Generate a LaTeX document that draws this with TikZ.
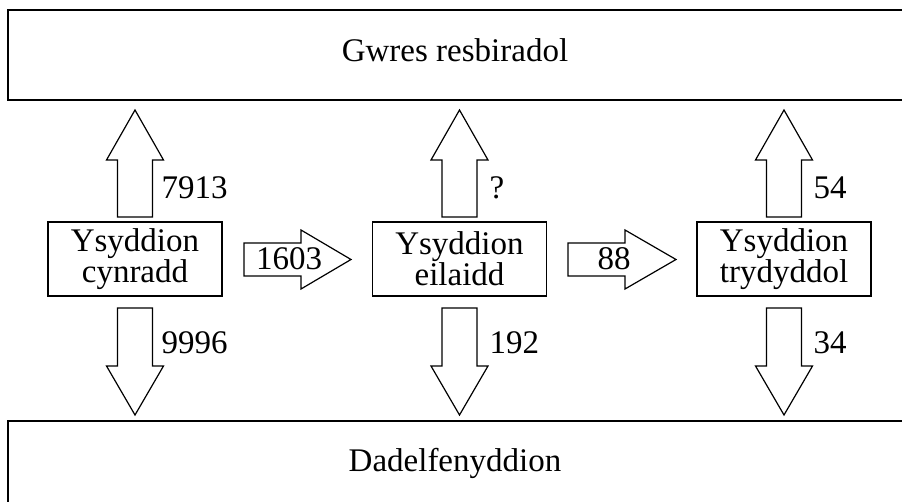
\documentclass[tikz,border=0pt]{standalone}
\usepackage{fontspec}
\setmainfont{Liberation Serif}
\begin{document}
\begin{tikzpicture}[x=1pt,y=-1pt,line width=1.2pt,
  every node/.style={font=\fontsize{33}{29}\selectfont,inner sep=0pt},
  cellbox/.style={draw,minimum width=174pt,minimum height=74pt,align=center},
  lbl/.style={anchor=west},
  blockarrow/.style={draw,line join=miter,fill=white}]
\useasboundingbox (0,0) rectangle (902,502);
% big boxes (right side runs off the page)
\draw (915,10) -- (8,10) -- (8,100) -- (915,100);
\draw (915,421) -- (8,421) -- (8,515);
\node (top) at (455,50) {Gwres resbiradol};
\node (bot) at (455,463) {Dadelfenyddion};
% cells
\node[cellbox] (c1) at (135,259) {Ysyddion\\cynradd};
\node[cellbox] (c2) at (459.5,259) {Ysyddion\\eilaidd};
\node[cellbox] (c3) at (784,259) {Ysyddion\\trydyddol};
% block arrows
\newcommand{\uparr}[1]{\draw[blockarrow] (#1-17.5,217) -- (#1-17.5,160) -- (#1-28.5,160) -- (#1,110) -- (#1+28.5,160) -- (#1+17.5,160) -- (#1+17.5,217) -- cycle;}
\newcommand{\dnarr}[1]{\draw[blockarrow] (#1-17.5,308) -- (#1-17.5,366) -- (#1-28.5,366) -- (#1,415) -- (#1+28.5,366) -- (#1+17.5,366) -- (#1+17.5,308) -- cycle;}
\newcommand{\rtarr}[2]{\draw[blockarrow] (#1,243) -- (#1+57,243) -- (#1+57,230) -- (#2,259.5) -- (#1+57,289) -- (#1+57,276) -- (#1,276) -- cycle;}
\uparr{135}\uparr{459.5}\uparr{784}
\dnarr{135}\dnarr{459.5}\dnarr{784}
\rtarr{244}{351}\rtarr{568}{676}
% labels
\node[lbl] (u1) at (161,188) {7913};
\node[lbl] (u2) at (489,188) {?};
\node[lbl] (u3) at (813,188) {54};
\node[lbl] (d1) at (161,343) {9996};
\node[lbl] (d2) at (489,343) {192};
\node[lbl] (d3) at (813,343) {34};
\node (h1) at (289,259) {1603};
\node (h2) at (614,259) {88};
\end{tikzpicture}
\end{document}
